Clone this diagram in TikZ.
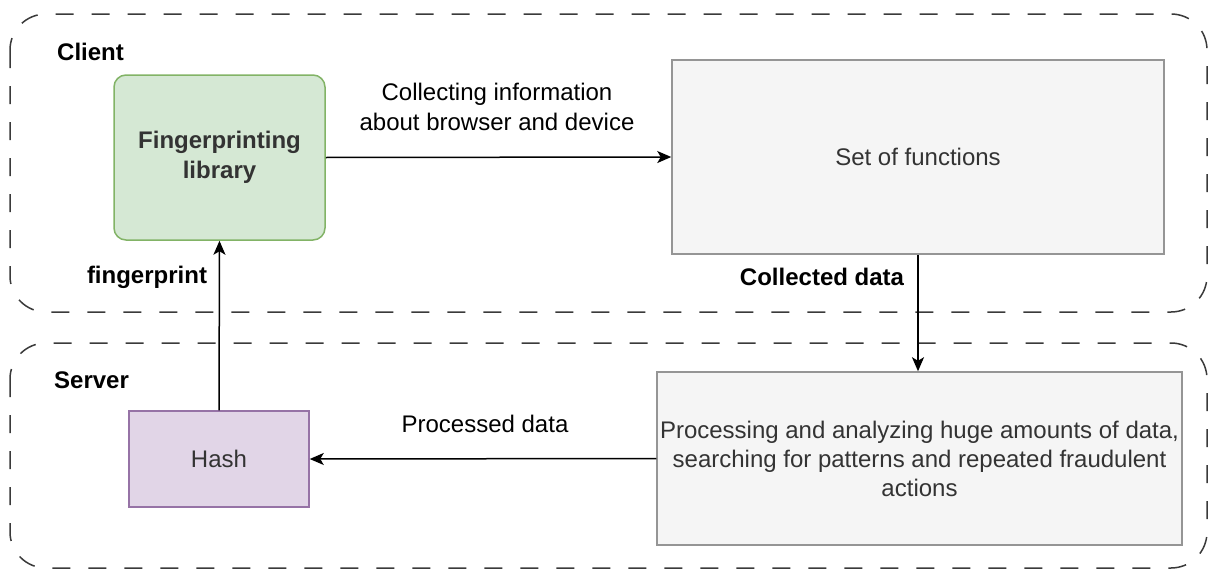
\documentclass[tikz,border=0pt]{standalone}
\usepackage{fontspec}
\setmainfont{Liberation Sans}
\usetikzlibrary{arrows.meta}
\definecolor{greenfill}{HTML}{D5E8D4}
\definecolor{greendraw}{HTML}{82B366}
\definecolor{grayfill}{HTML}{F5F5F5}
\definecolor{graydraw}{HTML}{959595}
\definecolor{purplefill}{HTML}{E1D5E7}
\definecolor{purpledraw}{HTML}{9673A6}
\definecolor{txtgray}{HTML}{333333}
\definecolor{dashgray}{HTML}{3A3A3A}
\tikzset{
  container/.style={draw=dashgray, line width=1.5pt, dash pattern=on 18pt off 18pt, rounded corners=36pt},
  box/.style={line width=1.5pt, text=txtgray, align=center, inner sep=0pt},
  conn/.style={line width=1.5pt, -{Stealth[length=14pt,width=12pt,inset=3.5pt]}},
  lbl/.style={align=center, font=\fontsize{24}{30}\selectfont},
  blbl/.style={lbl, font=\fontsize{24}{30}\selectfont\bfseries},
}
\begin{document}
\begin{tikzpicture}[x=1pt,y=-1pt]
\useasboundingbox (0,0) rectangle (1208,570);
% containers
\draw[container] (10,14) rectangle (1207,312);
\draw[container] (10,343) rectangle (1207,568);
\node[blbl, anchor=west, inner sep=0pt] (client) at (57,52) {Client};
\node[blbl, anchor=west, inner sep=0pt] (server) at (54,380) {Server};
% boxes
\node[box, draw=greendraw, fill=greenfill, rounded corners=12pt, minimum width=211pt, minimum height=165pt, font=\fontsize{24}{30}\selectfont\bfseries] (lib) at (219.5,157.5) {Fingerprinting\\library};
\node[box, draw=graydraw, fill=grayfill, minimum width=492pt, minimum height=194pt, font=\fontsize{24}{30}\selectfont] (set) at (918,157) {Set of functions};
\node[box, draw=graydraw, fill=grayfill, minimum width=525pt, minimum height=173pt, font=\fontsize{24}{29}\selectfont] (proc) at (919.5,458.5) {Processing and analyzing huge amounts of data,\\searching for patterns and repeated fraudulent\\actions};
\node[box, draw=purpledraw, fill=purplefill, minimum width=180pt, minimum height=96pt, font=\fontsize{24}{30}\selectfont] (hash) at (219,459) {Hash};
% connectors
\draw[conn] (lib.east) -- (set.west);
\draw[conn] (set.south) -- (proc.north -| set.south);
\draw[conn] (proc.west) -- (hash.east);
\draw[conn] (hash.north) -- (lib.south);
% labels
\node[lbl] (l1) at (497,107) {Collecting information\\about browser and device};
\node[blbl] (l2) at (822,277) {Collected data};
\node[lbl] (l3) at (485,424) {Processed data};
\node[blbl] (l4) at (147,277) {fingerprint};
\end{tikzpicture}
\end{document}
